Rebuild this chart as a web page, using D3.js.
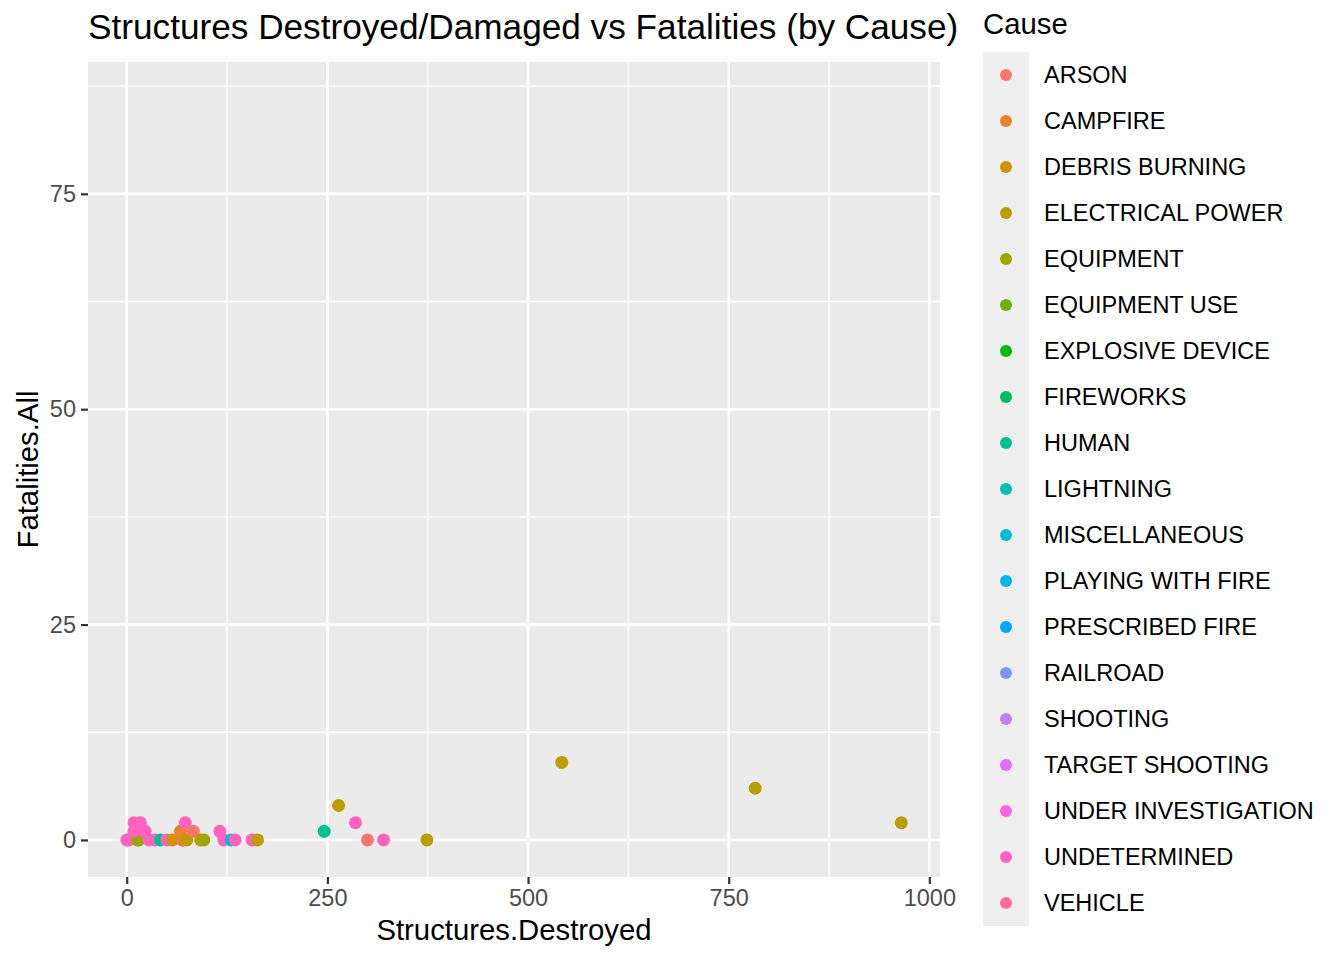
<!DOCTYPE html>
<html>
<head>
<meta charset="utf-8">
<script src="https://cdn.jsdelivr.net/npm/d3@7"></script>
<style>
  body { margin: 0; background: #fff; }
  text { font-family: "Liberation Sans", Arial, Helvetica, sans-serif; }
</style>
</head>
<body>
<script>
'use strict';

// factor levels, in legend order
var causes = ['ARSON', 'CAMPFIRE', 'DEBRIS BURNING', 'ELECTRICAL POWER', 'EQUIPMENT',
    'EQUIPMENT USE', 'EXPLOSIVE DEVICE', 'FIREWORKS', 'HUMAN', 'LIGHTNING',
    'MISCELLANEOUS', 'PLAYING WITH FIRE', 'PRESCRIBED FIRE', 'RAILROAD', 'SHOOTING',
    'TARGET SHOOTING', 'UNDER INVESTIGATION', 'UNDETERMINED', 'VEHICLE'];

// one entry per fire
var pointCause = [
    'UNDETERMINED', 'UNDETERMINED', 'ELECTRICAL POWER', 'EQUIPMENT', 'UNDETERMINED',
    'UNDETERMINED', 'UNDETERMINED', 'UNDETERMINED', 'UNDETERMINED', 'UNDETERMINED',
    'HUMAN', 'UNDETERMINED', 'DEBRIS BURNING', 'CAMPFIRE', 'UNDETERMINED',
    'CAMPFIRE', 'UNDETERMINED', 'ELECTRICAL POWER', 'ARSON', 'ELECTRICAL POWER',
    'EQUIPMENT', 'UNDETERMINED', 'UNDETERMINED', 'MISCELLANEOUS', 'UNDETERMINED',
    'UNDETERMINED', 'ELECTRICAL POWER', 'HUMAN', 'ELECTRICAL POWER', 'UNDETERMINED',
    'ARSON', 'UNDETERMINED', 'ELECTRICAL POWER', 'ELECTRICAL POWER', 'ELECTRICAL POWER',
    'ELECTRICAL POWER'
];
var structures = [
    0, 2, 13, 15, 9,
    17, 9, 23, 28, 35,
    42, 50, 57, 67, 69,
    70, 73, 75, 83, 92,
    96, 116, 121, 130, 135,
    156, 163, 246, 264, 285,
    300, 320, 374, 542, 783,
    965
];
var fatalities = [
    0, 0, 0, 0, 2,
    2, 1, 1, 0, 0,
    0, 0, 0, 1, 0,
    0, 2, 0, 1, 0,
    0, 1, 0, 0, 0,
    0, 0, 1, 4, 2,
    0, 0, 0, 9, 6,
    2
];
// fatalities scale also trained on rows without a structures value
var fatalityRange = [0, 86];

var xTicks = [0, 250, 500, 750, 1000];
var xMinor = [125, 375, 625, 875];
var yTicks = [0, 25, 50, 75];
var yMinor = [12.5, 37.5, 62.5, 87.5];

// ggplot2 hue palette: polar CIE-Luv, c = 100, l = 65
function hclLuv(h, c, l) {
    var hr = h * Math.PI / 180;
    var U = c * Math.cos(hr), V = c * Math.sin(hr);
    var Xn = 95.047, Yn = 100, Zn = 108.883;
    var Y = Yn * (l > 8 ? Math.pow((l + 16) / 116, 3) : l / 903.3);
    var den = Xn + 15 * Yn + 3 * Zn;
    var un = 4 * Xn / den, vn = 9 * Yn / den;
    var u = U / (13 * l) + un, v = V / (13 * l) + vn;
    var X = 9 * Y * u / (4 * v);
    var Z = -X / 3 - 5 * Y + 3 * Y / v;
    X /= 100; Y /= 100; Z /= 100;
    var r = 3.240479 * X - 1.53715 * Y - 0.498535 * Z;
    var g = -0.969256 * X + 1.875992 * Y + 0.041556 * Z;
    var b = 0.055648 * X - 0.204043 * Y + 1.057311 * Z;
    function gam(t) {
        t = t > 0.00304 ? 1.055 * Math.pow(t, 1 / 2.4) - 0.055 : 12.92 * t;
        return Math.round(255 * Math.max(0, Math.min(1, t)));
    }
    return d3.rgb(gam(r), gam(g), gam(b)).formatHex();
}
var n = causes.length;
var palette = causes.map(function(d, i) { return hclLuv(15 + i * 360 / n, 100, 65); });
var color = d3.scaleOrdinal().domain(causes).range(palette);

var W = 1344, H = 960;
var panel = { left: 88, right: 940, top: 62, bottom: 877 };

function expand(ext) {
    var pad = (ext[1] - ext[0]) * 0.05;
    return [ext[0] - pad, ext[1] + pad];
}

var x = d3.scaleLinear()
    .domain(expand(d3.extent(structures)))
    .range([panel.left, panel.right]);
var y = d3.scaleLinear()
    .domain(expand(d3.extent(fatalities.concat(fatalityRange))))
    .range([panel.bottom, panel.top]);

var svg = d3.select('body').append('svg')
    .attr('width', W)
    .attr('height', H);

svg.append('rect')
    .attr('x', panel.left)
    .attr('y', panel.top)
    .attr('width', panel.right - panel.left)
    .attr('height', panel.bottom - panel.top)
    .attr('fill', '#EBEBEB');

var grid = svg.append('g').attr('class', 'grid');

grid.selectAll('line.xminor')
    .data(xMinor.filter(function(d) { return x(d) > panel.left && x(d) < panel.right; }))
    .enter().append('line')
    .attr('x1', x).attr('x2', x)
    .attr('y1', panel.top).attr('y2', panel.bottom)
    .attr('stroke', '#fff').attr('stroke-width', 1.3);

grid.selectAll('line.yminor')
    .data(yMinor.filter(function(d) { return y(d) > panel.top && y(d) < panel.bottom; }))
    .enter().append('line')
    .attr('y1', y).attr('y2', y)
    .attr('x1', panel.left).attr('x2', panel.right)
    .attr('stroke', '#fff').attr('stroke-width', 1.3);

grid.selectAll('line.xmajor')
    .data(xTicks)
    .enter().append('line')
    .attr('x1', x).attr('x2', x)
    .attr('y1', panel.top).attr('y2', panel.bottom)
    .attr('stroke', '#fff').attr('stroke-width', 2.6);

grid.selectAll('line.ymajor')
    .data(yTicks)
    .enter().append('line')
    .attr('y1', y).attr('y2', y)
    .attr('x1', panel.left).attr('x2', panel.right)
    .attr('stroke', '#fff').attr('stroke-width', 2.6);

var pts = d3.range(structures.length).map(function(i) {
    return { cause: pointCause[i], x: structures[i], y: fatalities[i] };
});

svg.append('g').selectAll('circle')
    .data(pts)
    .enter().append('circle')
    .attr('cx', function(d) { return x(d.x); })
    .attr('cy', function(d) { return y(d.y); })
    .attr('r', 6.5)
    .attr('fill', function(d) { return color(d.cause); });

// axes
var xAxis = d3.axisBottom(x).tickValues(xTicks).tickFormat(d3.format('d')).tickSize(7).tickPadding(5);
var yAxis = d3.axisLeft(y).tickValues(yTicks).tickFormat(d3.format('d')).tickSize(7).tickPadding(5);

var gx = svg.append('g')
    .attr('transform', 'translate(0,' + panel.bottom + ')')
    .call(xAxis);
var gy = svg.append('g')
    .attr('transform', 'translate(' + panel.left + ',0)')
    .call(yAxis);

[gx, gy].forEach(function(g) {
    g.select('.domain').remove();
    g.selectAll('.tick line').attr('stroke', '#333').attr('stroke-width', 2.2);
    g.selectAll('.tick text')
        .attr('fill', '#4D4D4D')
        .style('font-size', '23.5px')
        .style('font-family', '"Liberation Sans", Arial, sans-serif');
});

svg.append('text')
    .attr('x', (panel.left + panel.right) / 2)
    .attr('y', 940)
    .attr('text-anchor', 'middle')
    .style('font-size', '29.3px')
    .text('Structures.Destroyed');

svg.append('text')
    .attr('transform', 'translate(38,' + (panel.top + panel.bottom) / 2 + ') rotate(-90)')
    .attr('text-anchor', 'middle')
    .style('font-size', '29.3px')
    .text('Fatalities.All');

svg.append('text')
    .attr('x', panel.left)
    .attr('y', 39)
    .style('font-size', '35.2px')
    .text('Structures Destroyed/Damaged vs Fatalities (by Cause)');

// legend
var keyH = 46;
var legend = svg.append('g').attr('transform', 'translate(983,52)');

legend.append('text')
    .attr('x', 0)
    .attr('y', -18)
    .style('font-size', '29.3px')
    .text('Cause');

legend.append('rect')
    .attr('width', 46)
    .attr('height', keyH * causes.length)
    .attr('fill', '#EFEFEF');

var item = legend.selectAll('g.item')
    .data(causes)
    .enter().append('g')
    .attr('class', 'item')
    .attr('transform', function(d, i) { return 'translate(0,' + (i * keyH + keyH / 2) + ')'; });

item.append('circle')
    .attr('cx', 23)
    .attr('cy', 0)
    .attr('r', 6)
    .attr('fill', color);

item.append('text')
    .attr('x', 61)
    .attr('y', 0)
    .attr('dy', '0.36em')
    .style('font-size', '23.5px')
    .text(function(d) { return d; });
</script>
</body>
</html>
